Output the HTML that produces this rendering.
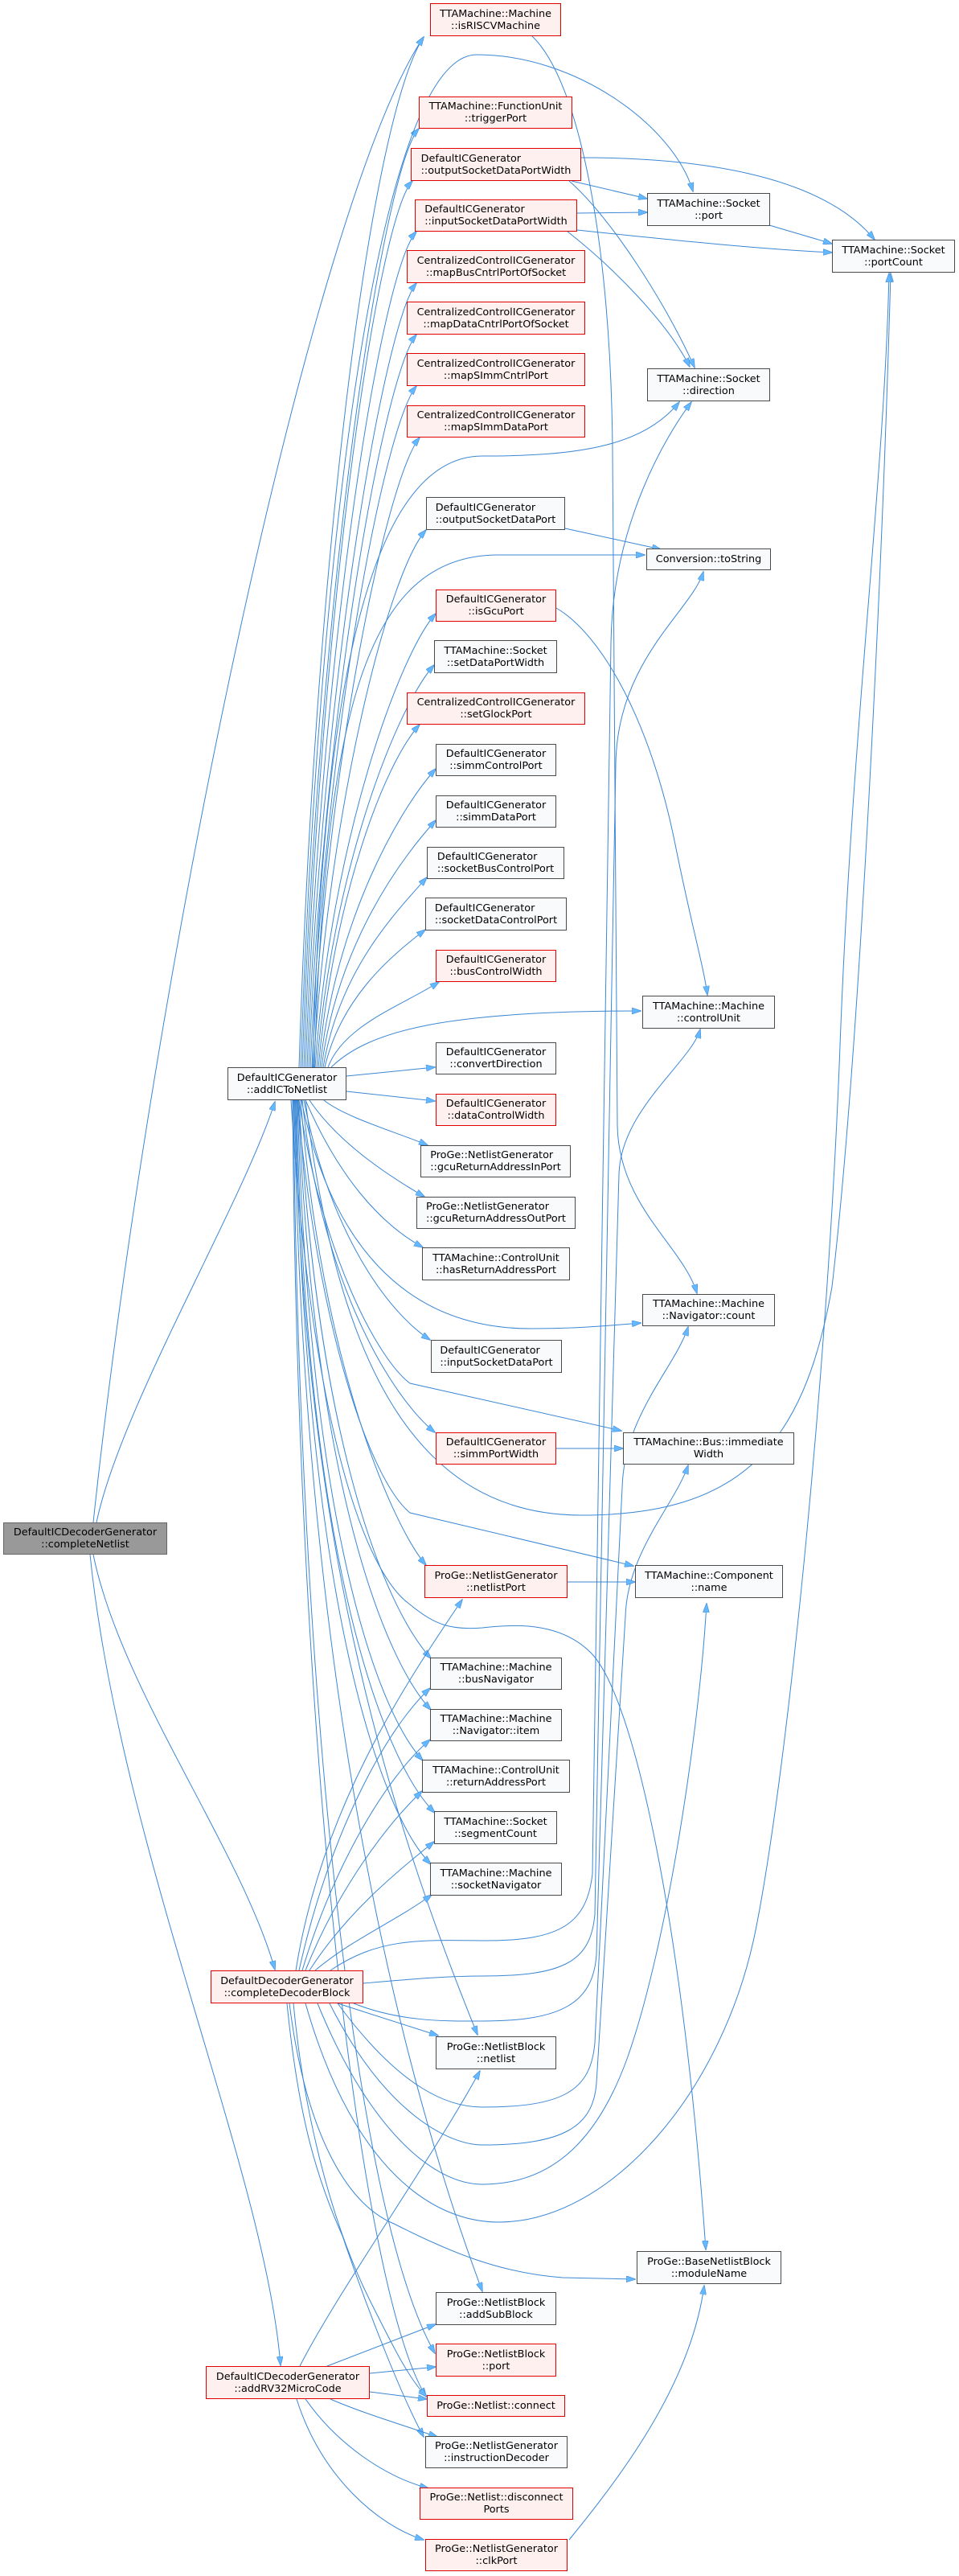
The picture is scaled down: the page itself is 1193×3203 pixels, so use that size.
<!DOCTYPE html>
<html><head><meta charset="utf-8"><style>
html,body{margin:0;padding:0;background:#fff}
body{width:1193px;height:3203px;position:relative;overflow:hidden}
svg{position:absolute;left:0;top:0}
.n{position:absolute;box-sizing:border-box;border:1px solid #4a4a4a;background:#f9fafb;display:flex;align-items:center;justify-content:center;text-align:center;font-family:"DejaVu Sans","Liberation Sans",sans-serif;font-size:12.8px;line-height:15px;color:#000;white-space:nowrap}
.r{border-color:#e00000;background:#fff0f0}
.g{border-color:#666;background:#999}
.l{text-align:left;display:inline-block}
</style></head><body>
<svg width="1193" height="3203" viewBox="0 0 1193 3203">
<defs><marker id="a" markerWidth="12" markerHeight="8" refX="11" refY="4" orient="auto" markerUnits="userSpaceOnUse"><path d="M0,0 L12,4 L0,8 z" fill="#63b8ff" stroke="#4a90d9" stroke-width="0.7"/></marker></defs>
<g fill="none" stroke="#3b87d4" stroke-width="1" marker-end="url(#a)">
<path d="M116,1893 C190,1200 390,250 527,46"/>
<path d="M120,1893 C150,1750 300,1500 342,1370"/>
<path d="M116,1933 C150,2100 300,2300 342,2449"/>
<path d="M112,1933 C150,2300 330,2700 349,2941"/>
<path d="M372,1327 C392,700 460,150 527,46"/>
<path d="M376,1327 C396,744 476,210 521,160"/>
<path d="M378,1327 C398,776 468,275 513,225"/>
<path d="M380,1327 C400,808 473,338 518,288"/>
<path d="M382,1327 C402,840 478,402 518,352"/>
<path d="M384,1327 C404,872 478,466 518,416"/>
<path d="M386,1327 C406,904 478,530 518,480"/>
<path d="M388,1327 C408,936 482,594 522,544"/>
<path d="M390,1327 C410,993 485,709 530,659"/>
<path d="M392,1327 C412,1045 497,813 542,763"/>
<path d="M394,1327 C414,1077 495,877 540,827"/>
<path d="M396,1327 C416,1114 477,951 522,901"/>
<path d="M398,1327 C418,1142 497,1006 542,956"/>
<path d="M400,1327 C420,1174 497,1070 542,1020"/>
<path d="M402,1327 C422,1209 486,1141 531,1091"/>
<path d="M404,1327 C424,1242 484,1190 529,1156"/>
<path d="M408,1327 C428,1274 501,1250 546,1221"/>
<path d="M374,1327 C400,600 480,68 593,68 C720,68 840,160 862,238"/>
<path d="M389,1327 C400,900 450,567 600,567 C720,567 800,555 845,500"/>
<path d="M391,1327 C405,900 450,690 620,690 L802,690"/>
<path d="M412,1327 C460,1280 560,1257 797,1257"/>
<path d="M431,1338 L541,1327"/>
<path d="M431,1357 L541,1369"/>
<path d="M403,1368 C430,1390 500,1410 532,1424"/>
<path d="M385,1368 C420,1420 480,1460 528,1488"/>
<path d="M380,1368 C420,1460 470,1520 526,1551"/>
<path d="M375,1368 C410,1540 500,1652 660,1652 C720,1652 760,1648 797,1645"/>
<path d="M378,1368 C410,1530 480,1630 535,1666"/>
<path d="M372,1368 C400,1560 470,1690 510,1720 L773,1779"/>
<path d="M376,1368 C400,1600 490,1740 541,1781"/>
<path d="M380,1368 C420,1700 520,1884 723,1884 C920,1884 1000,1800 1035,1600 C1070,1300 1098,700 1108,340"/>
<path d="M370,1368 C395,1650 460,1840 510,1881 L788,1947"/>
<path d="M374,1368 C400,1700 490,1900 530,1946"/>
<path d="M372,1368 C395,1800 480,2000 536,2062"/>
<path d="M371,1368 C390,1850 480,2066 536,2126"/>
<path d="M370,1368 C385,1900 470,2129 526,2189"/>
<path d="M369,1368 C380,1950 480,2194 541,2254"/>
<path d="M368,1368 C378,2000 476,2258 536,2318"/>
<path d="M367,1368 C375,1900 480,2250 594,2530"/>
<path d="M366,1368 C375,2000 470,2500 600,2849"/>
<path d="M365,1368 C372,2100 440,2750 541,2926"/>
<path d="M364,1368 C370,2200 450,2850 530,2980"/>
<path d="M362,1368 C390,1800 460,1960 510,1995 C540,2020 560,2027 600,2024 C650,2018 700,2020 735,2055 C790,2110 850,2400 878,2797"/>
<path d="M368,2450 C400,2250 500,2100 575,1989"/>
<path d="M372,2450 C410,2280 480,2150 535,2099"/>
<path d="M376,2450 C415,2320 480,2210 535,2163"/>
<path d="M380,2450 C420,2350 480,2270 525,2227"/>
<path d="M385,2450 C430,2380 490,2330 540,2290"/>
<path d="M392,2450 C440,2410 490,2390 537,2356"/>
<path d="M411,2450 C470,2410 520,2412 600,2413 C700,2414 730,2390 737,2330 L760,800 C762,650 830,540 860,500"/>
<path d="M452,2466 C520,2460 560,2457 600,2457 C700,2457 735,2440 740,2380 L766,950 C768,820 860,760 875,711"/>
<path d="M440,2491 C500,2515 560,2513 600,2513 C700,2513 738,2490 742,2430 L770,1460 C772,1380 860,1320 871,1280"/>
<path d="M420,2491 C500,2600 560,2620 600,2620 C700,2620 735,2600 740,2540 L774,1850 C776,1760 840,1700 856,1650"/>
<path d="M410,2491 C480,2630 560,2667 600,2667 C700,2667 738,2645 742,2590 L778,2010 C780,1930 840,1870 856,1822"/>
<path d="M395,2491 C460,2650 540,2716 600,2716 C680,2716 740,2670 780,2560 C830,2420 870,2150 879,1994"/>
<path d="M380,2491 C440,2700 540,2763 620,2763 C760,2763 900,2600 940,2400 C980,2200 1030,1700 1045,1300 C1060,900 1100,600 1106,340"/>
<path d="M420,2491 L545,2531"/>
<path d="M360,2491 C380,2650 430,2740 490,2765 C560,2800 620,2826 700,2832 L790,2834"/>
<path d="M357,2491 C370,2620 390,2700 426,2780 C460,2880 500,2980 527,3030"/>
<path d="M365,2491 C380,2650 420,2780 460,2860 C490,2920 510,2960 531,2980"/>
<path d="M373,2942 C420,2850 540,2680 597,2575"/>
<path d="M407,2942 L542,2890"/>
<path d="M460,2951 L542,2943"/>
<path d="M460,2974 L531,2983"/>
<path d="M411,2983 C450,3000 500,3015 544,3030"/>
<path d="M380,2983 C420,3040 480,3080 533,3094"/>
<path d="M369,2983 C400,3080 470,3140 527,3158"/>
<path d="M662,45 C720,100 760,300 762,560 L768,1400 C770,1500 850,1550 867,1608"/>
<path d="M692,756 C750,790 810,900 840,1050 C860,1150 875,1200 880,1237"/>
<path d="M711,225 L805,247"/>
<path d="M723,196 C860,196 1020,215 1088,298"/>
<path d="M708,225 C760,270 830,380 864,457"/>
<path d="M718,265 L805,264"/>
<path d="M718,286 C850,300 950,310 1035,314"/>
<path d="M706,288 C760,330 830,400 858,456"/>
<path d="M957,280 L1035,303"/>
<path d="M703,657 L822,683"/>
<path d="M692,1801 L775,1801"/>
<path d="M706,1967 L790,1967"/>
<path d="M708,3158 C780,3070 860,2960 876,2842"/>
</g>
</svg>

<div class="n g" style="left:4px;top:1893px;width:204px;height:40px">DefaultICDecoderGenerator<br>::completeNetlist</div>

<div class="n" style="left:283px;top:1327px;width:148px;height:41px">DefaultICGenerator<br>::addICToNetlist</div>
<div class="n r" style="left:262px;top:2450px;width:190px;height:41px">DefaultDecoderGenerator<br>::completeDecoderBlock</div>
<div class="n r" style="left:256px;top:2942px;width:204px;height:41px">DefaultICDecoderGenerator<br>::addRV32MicroCode</div>

<div class="n r" style="left:535px;top:4px;width:163px;height:41px">TTAMachine::Machine<br>::isRISCVMachine</div>
<div class="n r" style="left:521px;top:120px;width:191px;height:40px">TTAMachine::FunctionUnit<br>::triggerPort</div>
<div class="n r" style="left:511px;top:184px;width:212px;height:41px"><span class="l">DefaultICGenerator<br>::outputSocketDataPortWidth</span></div>
<div class="n r" style="left:516px;top:248px;width:202px;height:40px"><span class="l">DefaultICGenerator<br>::inputSocketDataPortWidth</span></div>
<div class="n r" style="left:506px;top:311px;width:222px;height:41px">CentralizedControlICGenerator<br>::mapBusCntrlPortOfSocket</div>
<div class="n r" style="left:506px;top:375px;width:222px;height:41px">CentralizedControlICGenerator<br>::mapDataCntrlPortOfSocket</div>
<div class="n r" style="left:506px;top:439px;width:222px;height:41px">CentralizedControlICGenerator<br>::mapSImmCntrlPort</div>
<div class="n r" style="left:506px;top:504px;width:222px;height:40px">CentralizedControlICGenerator<br>::mapSImmDataPort</div>
<div class="n" style="left:530px;top:618px;width:173px;height:41px"><span class="l">DefaultICGenerator<br>::outputSocketDataPort</span></div>
<div class="n r" style="left:542px;top:733px;width:150px;height:40px">DefaultICGenerator<br>::isGcuPort</div>
<div class="n" style="left:540px;top:796px;width:153px;height:41px">TTAMachine::Socket<br>::setDataPortWidth</div>
<div class="n r" style="left:506px;top:861px;width:222px;height:40px">CentralizedControlICGenerator<br>::setGlockPort</div>
<div class="n" style="left:542px;top:925px;width:150px;height:40px">DefaultICGenerator<br>::simmControlPort</div>
<div class="n" style="left:542px;top:989px;width:150px;height:40px">DefaultICGenerator<br>::simmDataPort</div>
<div class="n" style="left:531px;top:1053px;width:171px;height:40px"><span class="l">DefaultICGenerator<br>::socketBusControlPort</span></div>
<div class="n" style="left:529px;top:1116px;width:176px;height:41px"><span class="l">DefaultICGenerator<br>::socketDataControlPort</span></div>
<div class="n r" style="left:542px;top:1181px;width:150px;height:40px">DefaultICGenerator<br>::busControlWidth</div>
<div class="n" style="left:542px;top:1296px;width:150px;height:40px">DefaultICGenerator<br>::convertDirection</div>
<div class="n r" style="left:542px;top:1360px;width:150px;height:40px">DefaultICGenerator<br>::dataControlWidth</div>
<div class="n" style="left:523px;top:1424px;width:187px;height:40px"><span class="l">ProGe::NetlistGenerator<br>::gcuReturnAddressInPort</span></div>
<div class="n" style="left:518px;top:1488px;width:198px;height:40px"><span class="l">ProGe::NetlistGenerator<br>::gcuReturnAddressOutPort</span></div>
<div class="n" style="left:525px;top:1551px;width:184px;height:41px">TTAMachine::ControlUnit<br>::hasReturnAddressPort</div>
<div class="n" style="left:536px;top:1666px;width:163px;height:41px"><span class="l">DefaultICGenerator<br>::inputSocketDataPort</span></div>
<div class="n r" style="left:542px;top:1781px;width:150px;height:40px">DefaultICGenerator<br>::simmPortWidth</div>
<div class="n r" style="left:528px;top:1946px;width:178px;height:41px">ProGe::NetlistGenerator<br>::netlistPort</div>
<div class="n" style="left:535px;top:2061px;width:164px;height:40px">TTAMachine::Machine<br>::busNavigator</div>
<div class="n" style="left:535px;top:2125px;width:164px;height:40px">TTAMachine::Machine<br>::Navigator::item</div>
<div class="n" style="left:525px;top:2188px;width:184px;height:41px">TTAMachine::ControlUnit<br>::returnAddressPort</div>
<div class="n" style="left:540px;top:2252px;width:153px;height:41px">TTAMachine::Socket<br>::segmentCount</div>
<div class="n" style="left:535px;top:2316px;width:164px;height:41px">TTAMachine::Machine<br>::socketNavigator</div>
<div class="n" style="left:542px;top:2532px;width:150px;height:41px">ProGe::NetlistBlock<br>::netlist</div>
<div class="n" style="left:542px;top:2850px;width:150px;height:41px">ProGe::NetlistBlock<br>::addSubBlock</div>
<div class="n r" style="left:542px;top:2914px;width:150px;height:41px">ProGe::NetlistBlock<br>::port</div>
<div class="n r" style="left:531px;top:2978px;width:172px;height:27px">ProGe::Netlist::connect</div>
<div class="n" style="left:529px;top:3029px;width:177px;height:40px">ProGe::NetlistGenerator<br>::instructionDecoder</div>
<div class="n r" style="left:522px;top:3093px;width:191px;height:40px">ProGe::Netlist::disconnect<br>Ports</div>
<div class="n r" style="left:529px;top:3157px;width:177px;height:40px">ProGe::NetlistGenerator<br>::clkPort</div>

<div class="n" style="left:805px;top:240px;width:153px;height:41px">TTAMachine::Socket<br>::port</div>
<div class="n" style="left:805px;top:458px;width:153px;height:41px">TTAMachine::Socket<br>::direction</div>
<div class="n" style="left:804px;top:682px;width:155px;height:27px">Conversion::toString</div>
<div class="n" style="left:799px;top:1238px;width:165px;height:41px">TTAMachine::Machine<br>::controlUnit</div>
<div class="n" style="left:799px;top:1609px;width:165px;height:40px">TTAMachine::Machine<br>::Navigator::count</div>
<div class="n" style="left:775px;top:1781px;width:213px;height:40px">TTAMachine::Bus::immediate<br>Width</div>
<div class="n" style="left:790px;top:1946px;width:184px;height:41px">TTAMachine::Component<br>::name</div>
<div class="n" style="left:792px;top:2799px;width:180px;height:41px">ProGe::BaseNetlistBlock<br>::moduleName</div>

<div class="n" style="left:1035px;top:298px;width:153px;height:41px">TTAMachine::Socket<br>::portCount</div>
</body></html>
